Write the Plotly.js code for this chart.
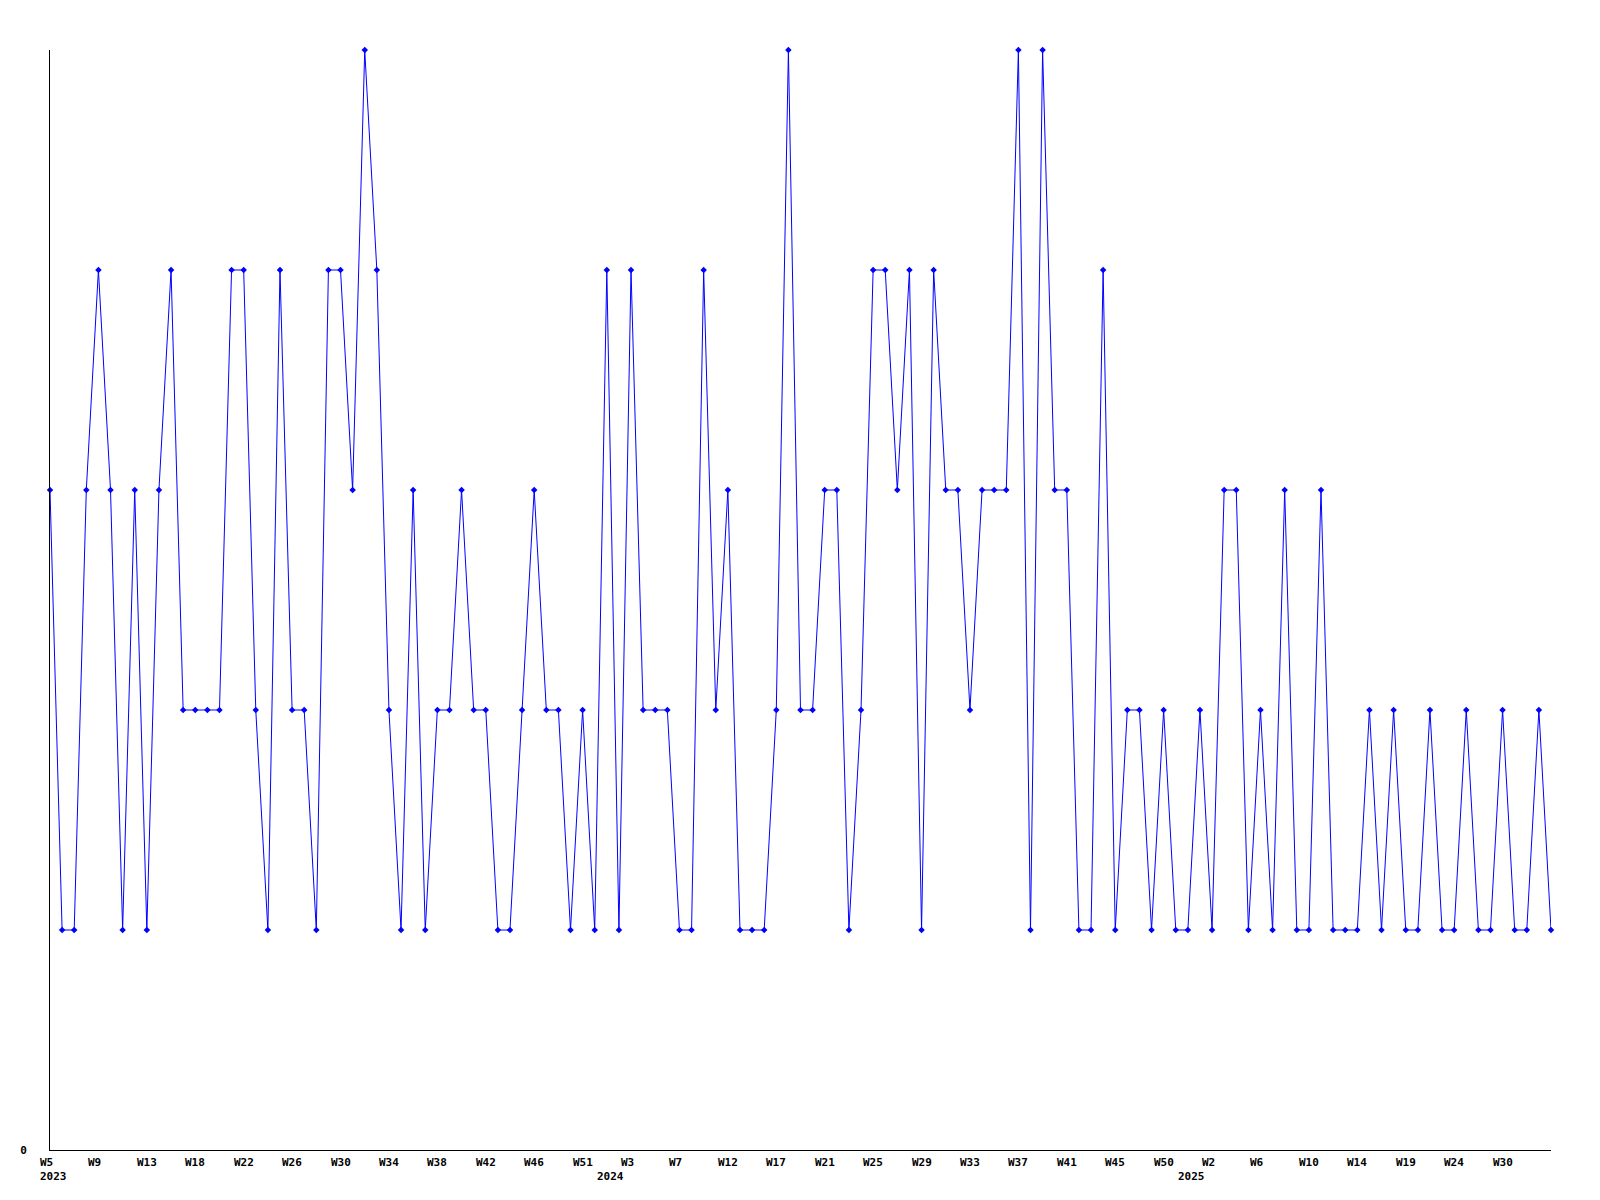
<!DOCTYPE html>
<html>
<head>
<meta charset="utf-8">
<script src="https://cdn.plot.ly/plotly-3.0.1.min.js"></script>
<style>
  html, body { margin: 0; padding: 0; background: #ffffff; }
  #chart { width: 1600px; height: 1200px; }
</style>
</head>
<body>
<div id="chart"></div>
<script>
// Weekly values, one per week shown (2023 W5 onward), in plotting order
const values = [
  3,1,1,3,4,3,1,3,1,3,
  4,2,2,2,2,4,4,2,1,4,
  2,2,1,4,4,3,5,4,2,1,
  3,1,2,2,3,2,2,1,1,2,
  3,2,2,1,2,1,4,1,4,2,
  2,2,1,1,4,2,3,1,1,1,
  2,5,2,2,3,3,1,2,4,4,
  3,4,1,4,3,3,2,3,3,3,
  5,1,5,3,3,1,1,4,1,2,
  2,1,2,1,1,2,1,3,3,1,
  2,1,3,1,1,3,1,1,1,2,
  1,2,1,1,2,1,1,2,1,1,
  2,1,1,2,1
];

// Point positions (sequence number of each weekly point)
const pointIndex = values.map((v, i) => i);

// Week tick labels and the point they sit under
const tickIndex = [0,4,8,12,16,20,24,28,32,36,40,44,48,52,56,60,64,68,72,76,80,84,88,92,96,100,104,108,112,116,120];
const tickLabels = ["W5","W9","W13","W18","W22","W26","W30","W34","W38","W42","W46","W51",
                    "W3","W7","W12","W17","W21","W25","W29","W33","W37","W41","W45","W50",
                    "W2","W6","W10","W14","W19","W24","W30"];

// Year labels and the point they sit under
const yearIndex = [0, 46, 94];
const yearLabels = ["2023", "2024", "2025"];

const labelFont = { family: "DejaVu Sans Mono", size: 11, color: "#000000", weight: "bold" };

const trace = {
  x: pointIndex,
  y: values,
  type: "scatter",
  mode: "lines+markers",
  line: { color: "#0000ff", width: 1 },
  marker: { color: "#0000ff", symbol: "diamond", size: 5 },
  cliponaxis: false,
  hoverinfo: "x+y"
};

function label(xv, text, yPaper) {
  return {
    x: xv, xref: "x",
    y: yPaper, yref: "paper",
    xanchor: "left", yanchor: "top",
    xshift: -11,
    borderpad: 0,
    text: text,
    showarrow: false,
    font: labelFont
  };
}

const annotations = []
  .concat(tickLabels.map((t, k) => label(tickIndex[k], t, -0.0045)))
  .concat(yearLabels.map((t, k) => label(yearIndex[k], t, -0.0175)));

const layout = {
  width: 1600,
  height: 1200,
  margin: { l: 50, r: 49, t: 50, b: 50, pad: 0 },
  paper_bgcolor: "#ffffff",
  plot_bgcolor: "#ffffff",
  showlegend: false,
  xaxis: {
    range: [0, pointIndex[pointIndex.length - 1]],
    showticklabels: false,
    showgrid: false,
    zeroline: false,
    showline: true,
    linecolor: "#000000",
    linewidth: 1,
    ticks: ""
  },
  yaxis: {
    range: [0, 5],
    tickmode: "array",
    tickvals: [0],
    ticktext: ["0"],
    showgrid: false,
    zeroline: false,
    showline: true,
    linecolor: "#000000",
    linewidth: 1,
    ticks: "",
    ticklabelstandoff: 20,
    tickfont: labelFont
  },
  annotations: annotations
};

Plotly.newPlot("chart", [trace], layout, { displayModeBar: false, staticPlot: true });
</script>
</body>
</html>
